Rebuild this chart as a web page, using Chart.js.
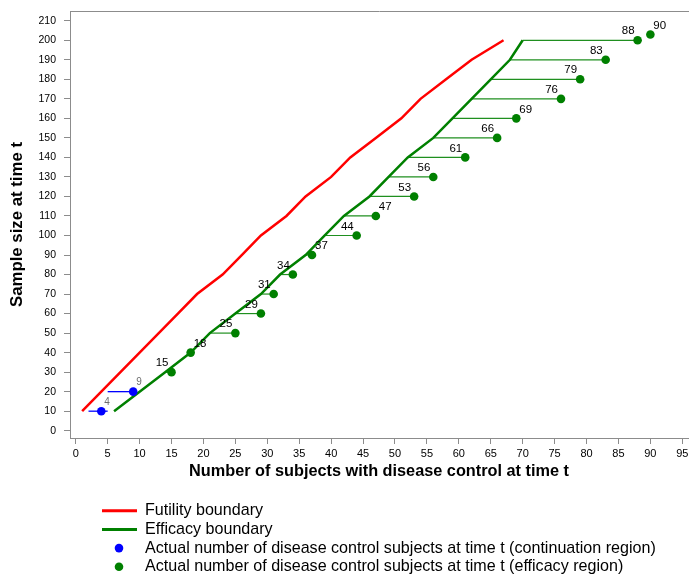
<!DOCTYPE html>
<html>
<head>
<meta charset="utf-8">
<title>Futility and efficacy boundaries</title>
<script src="https://cdn.jsdelivr.net/npm/chart.js@4.4.0/dist/chart.umd.min.js"></script>
<style>
  html, body { margin: 0; padding: 0; background: #fff; }
  #wrap { position: relative; width: 689px; height: 575px; }
</style>
</head>
<body>
<div id="wrap"><canvas id="myChart" width="689" height="575"></canvas></div>
<script>
// sample size at each look (y) and boundaries (x)
var futN = [10, 20, 30, 40, 50, 60, 70, 80, 90, 100, 110, 120, 130, 140, 150, 160, 170, 180, 190, 200];
var futX = [1, 4, 7, 10, 13, 16, 19, 23, 26, 29, 33, 36, 40, 43, 47, 51, 54, 58, 62, 67];
var effN = [10, 20, 30, 40, 50, 60, 70, 80, 90, 100, 110, 120, 130, 140, 150, 160, 170, 180, 190, 200];
var effX = [6, 10, 14, 18, 21, 25, 29, 32, 36, 39, 42, 46, 49, 52, 56, 59, 62, 65, 68, 70];

// observed subjects with disease control
var contN = [10, 20];
var contX = [4, 9];
var effPtN = [30, 40, 50, 60, 70, 80, 90, 100, 110, 120, 130, 140, 150, 160, 170, 180, 190, 200, 203];
var effPtX = [15, 18, 25, 29, 31, 34, 37, 44, 47, 53, 56, 61, 66, 69, 76, 79, 83, 88, 90];

// axis ticks
var xTicks = [0, 5, 10, 15, 20, 25, 30, 35, 40, 45, 50, 55, 60, 65, 70, 75, 80, 85, 90, 95];
var yTicks = [0, 10, 20, 30, 40, 50, 60, 70, 80, 90, 100, 110, 120, 130, 140, 150, 160, 170, 180, 190, 200, 210];

var xTitle = 'Number of subjects with disease control at time t';
var yTitle = 'Sample size at time t';

// labels placed to the right of the point (others go to the left)
var contLabelRight = [true, true];
var effLabelRight = [false, true, false, false, false, false, true, false, true, false, false, false, false, true, false, false, false, false, true];

var RED = '#FF0000';
var GREEN = '#008000';
var BLUE = '#0000FF';
var AXIS = '#8c8c8c';
var FONT = "'Liberation Sans', Arial, sans-serif";

var legendItems = [
  { text: 'Futility boundary', kind: 'line', color: RED },
  { text: 'Efficacy boundary', kind: 'line', color: GREEN },
  { text: 'Actual number of disease control subjects at time t (continuation region)', kind: 'dot', color: BLUE },
  { text: 'Actual number of disease control subjects at time t (efficacy region)', kind: 'dot', color: GREEN }
];

function toPoints(xs, ys) {
  var out = [];
  for (var i = 0; i < xs.length; i++) {
    out.push({ x: xs[i], y: ys[i] });
  }
  return out;
}

// boundary value at a given sample size
function lookup(ns, xs, n) {
  for (var i = 0; i < ns.length; i++) {
    if (ns[i] == n) return xs[i];
  }
  return null;
}

var datasets = [];

// continuation range (futility+1 .. efficacy-1) for the blue points
for (var i = 0; i < contN.length; i++) {
  datasets.push({
    kind: 'seg',
    data: [
      { x: lookup(futN, futX, contN[i]) + 1, y: contN[i] },
      { x: lookup(effN, effX, contN[i]) - 1, y: contN[i] }
    ],
    showLine: true, borderColor: BLUE, borderWidth: 1.3, pointRadius: 0, order: 5
  });
}

// from efficacy boundary to the observed point
for (var i = 0; i < effPtN.length; i++) {
  var start = lookup(effN, effX, effPtN[i]);
  if (start === null) continue;
  datasets.push({
    kind: 'seg',
    data: [{ x: start, y: effPtN[i] }, { x: effPtX[i], y: effPtN[i] }],
    showLine: true, borderColor: '#1f8f1f', borderWidth: 1.2, pointRadius: 0, order: 5
  });
}

datasets.push({
  kind: 'fut', label: 'Futility boundary',
  data: toPoints(futX, futN),
  showLine: true, borderColor: RED, borderWidth: 2.5, pointRadius: 0, order: 4
});
datasets.push({
  kind: 'eff', label: 'Efficacy boundary',
  data: toPoints(effX, effN),
  showLine: true, borderColor: GREEN, borderWidth: 2.5, pointRadius: 0, order: 3
});
datasets.push({
  kind: 'contPts', label: legendItems[2].text,
  data: toPoints(contX, contN),
  showLine: false, backgroundColor: BLUE, borderColor: BLUE, borderWidth: 0, pointRadius: 4.3, order: 1
});
datasets.push({
  kind: 'effPts', label: legendItems[3].text,
  data: toPoints(effPtX, effPtN),
  showLine: false, backgroundColor: GREEN, borderColor: GREEN, borderWidth: 0, pointRadius: 4.3, order: 1
});

// titles, frame, point labels and legend
var extras = {
  id: 'extras',
  afterDatasetsDraw: function(chart) {
    var ctx = chart.ctx;
    var area = chart.chartArea;
    ctx.save();

    // top frame line
    ctx.strokeStyle = AXIS;
    ctx.lineWidth = 1;
    ctx.beginPath();
    ctx.moveTo(area.left, area.top + 0.5);
    ctx.lineTo(area.right, area.top + 0.5);
    ctx.stroke();

    // point labels
    ctx.textBaseline = 'middle';
    chart.data.datasets.forEach(function(ds, di) {
      if (ds.kind != 'contPts' && ds.kind != 'effPts') return;
      var meta = chart.getDatasetMeta(di);
      var values = ds.kind == 'contPts' ? contX : effPtX;
      var right = ds.kind == 'contPts' ? contLabelRight : effLabelRight;
      ctx.font = (ds.kind == 'contPts' ? '10px ' : '11.5px ') + FONT;
      ctx.fillStyle = ds.kind == 'contPts' ? '#6e6e6e' : '#000';
      meta.data.forEach(function(pt, i) {
        if (right[i]) {
          ctx.textAlign = 'left';
          ctx.fillText(String(values[i]), pt.x + 3, pt.y - 9);
        } else {
          ctx.textAlign = 'right';
          ctx.fillText(String(values[i]), pt.x - 3, pt.y - 9);
        }
      });
    });

    // axis titles
    ctx.fillStyle = '#000';
    ctx.textAlign = 'center';
    ctx.font = 'bold 16.3px ' + FONT;
    ctx.fillText(xTitle, 379, 472);
    ctx.save();
    ctx.translate(17.5, (area.top + area.bottom) / 2);
    ctx.rotate(-Math.PI / 2);
    ctx.font = 'bold 16.8px ' + FONT;
    ctx.fillText(yTitle, 0, 0);
    ctx.restore();

    // legend
    ctx.textAlign = 'left';
    ctx.font = '16.1px ' + FONT;
    for (var i = 0; i < legendItems.length; i++) {
      var it = legendItems[i];
      var y = 510.7 + i * 18.7;
      if (it.kind == 'line') {
        ctx.strokeStyle = it.color;
        ctx.lineWidth = 3;
        ctx.beginPath();
        ctx.moveTo(102, y);
        ctx.lineTo(137, y);
        ctx.stroke();
      } else {
        ctx.fillStyle = it.color;
        ctx.beginPath();
        ctx.arc(119, y, 4.3, 0, Math.PI * 2);
        ctx.fill();
      }
      ctx.fillStyle = '#000';
      ctx.fillText(it.text, 145, y);
    }
    ctx.restore();
  }
};

var ctx = document.getElementById('myChart').getContext('2d');
var myChart = new Chart(ctx, {
  type: 'scatter',
  data: { datasets: datasets },
  options: {
    responsive: false,
    animation: false,
    events: [],
    layout: { autoPadding: false, padding: { left: 0, right: 0, top: 11, bottom: 0 } },
    plugins: {
      legend: { display: false },
      tooltip: { enabled: false }
    },
    scales: {
      x: {
        type: 'linear',
        min: -0.9,
        max: 96.05,
        afterBuildTicks: function(scale) {
          scale.ticks = xTicks.map(function(v) { return { value: v }; });
        },
        afterFit: function(scale) {
          scale.height = 137;
          scale.paddingLeft = 0;
          scale.paddingRight = 0;
        },
        ticks: {
          autoSkip: false, maxRotation: 0, padding: 3, color: '#000',
          font: { family: FONT, size: 11 }
        },
        grid: { drawOnChartArea: false, drawTicks: true, tickLength: 6, tickColor: AXIS },
        border: { color: AXIS, width: 1 }
      },
      y: {
        type: 'linear',
        min: -3.74,
        max: 215,
        afterBuildTicks: function(scale) {
          scale.ticks = yTicks.map(function(v) { return { value: v }; });
        },
        afterFit: function(scale) {
          scale.width = 70;
          scale.paddingTop = 0;
          scale.paddingBottom = 0;
        },
        ticks: {
          autoSkip: false, padding: 8, color: '#000',
          font: { family: FONT, size: 10.5 }
        },
        grid: { drawOnChartArea: false, drawTicks: true, tickLength: 6, tickColor: AXIS },
        border: { color: AXIS, width: 1 }
      }
    }
  },
  plugins: [extras]
});
</script>
</body>
</html>
